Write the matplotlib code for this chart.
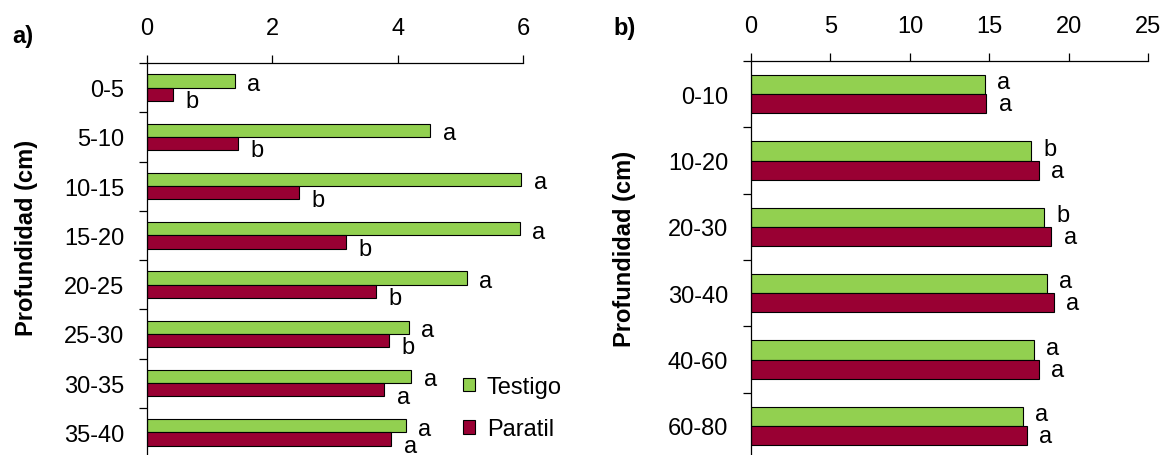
import numpy as np
import matplotlib
matplotlib.use("Agg")
import matplotlib.pyplot as plt
from matplotlib.patches import Patch

plt.rcParams['font.family'] = ['Liberation Sans', 'DejaVu Sans']

# panel a) data
depth_a = ['0-5', '5-10', '10-15', '15-20', '20-25', '25-30', '30-35', '35-40']
testigo_a = [1.40, 4.52, 5.97, 5.95, 5.10, 4.18, 4.22, 4.13]
paratil_a = [0.42, 1.45, 2.42, 3.18, 3.66, 3.86, 3.79, 3.90]
let_testigo_a = ['a', 'a', 'a', 'a', 'a', 'a', 'a', 'a']
let_paratil_a = ['b', 'b', 'b', 'b', 'b', 'b', 'a', 'a']

# panel b) data
depth_b = ['0-10', '10-20', '20-30', '30-40', '40-60', '60-80']
testigo_b = [14.70, 17.60, 18.40, 18.60, 17.80, 17.10]
paratil_b = [14.80, 18.10, 18.90, 19.05, 18.10, 17.35]
let_testigo_b = ['a', 'b', 'b', 'a', 'a', 'a']
let_paratil_b = ['a', 'a', 'a', 'a', 'a', 'a']

GREEN = '#92D050'
RED = '#990033'
FS = 17

fig = plt.figure(figsize=(11.65, 4.56), dpi=100)
ax_a = fig.add_axes([0.1262, -0.0044, 0.3227, 0.864])
ax_b = fig.add_axes([0.6446, -0.0088, 0.3412, 0.8728])


def draw_panel(ax, cats, v1, v2, l1, l2, h, xmax, step, dy1, dy2):
    y = np.arange(len(cats))
    ax.barh(y - h / 2, v1, height=h, color=GREEN, edgecolor='black', linewidth=0.8)
    ax.barh(y + h / 2, v2, height=h, color=RED, edgecolor='black', linewidth=0.8)
    # significance letters next to each bar
    for yi, v, t in zip(y, v1, l1):
        ax.annotate(t, (v, yi - h / 2), xytext=(9, dy1), textcoords='offset points',
                    ha='left', va='center', fontsize=FS)
    for yi, v, t in zip(y, v2, l2):
        ax.annotate(t, (v, yi + h / 2), xytext=(9, dy2), textcoords='offset points',
                    ha='left', va='center', fontsize=FS)
    ax.set_xlim(0, xmax)
    ax.set_ylim(len(cats) - 0.5, -0.5)
    ax.xaxis.tick_top()
    ax.set_xticks(np.arange(0, xmax + 0.01, step))
    ax.tick_params(axis='x', direction='out', length=5.5, width=0.9, pad=11.5, labelsize=FS)
    ax.set_yticks(y)
    ax.set_yticklabels(cats)
    ax.set_yticks(np.arange(len(cats) + 1) - 0.5, minor=True)
    ax.tick_params(axis='y', which='major', length=0, pad=16.5, labelsize=FS)
    ax.tick_params(axis='y', which='minor', direction='out', length=5.5, width=0.9)
    for s in ['right', 'bottom']:
        ax.spines[s].set_visible(False)
    for s in ['left', 'top']:
        ax.spines[s].set_linewidth(0.9)


draw_panel(ax_a, depth_a, testigo_a, paratil_a, let_testigo_a, let_paratil_a,
           0.27, 6, 2, -2, -5)
draw_panel(ax_b, depth_b, testigo_b, paratil_b, let_testigo_b, let_paratil_b,
           0.29, 25, 5, 1.5, -0.5)

ax_a.set_ylabel('Profundidad (cm)', fontsize=FS, fontweight='bold')
ax_a.yaxis.set_label_coords(-0.29, 0.558)
ax_b.set_ylabel('Profundidad (cm)', fontsize=FS, fontweight='bold')
ax_b.yaxis.set_label_coords(-0.2895, 0.53)

fig.text(0.0105, 0.92, 'a)', fontsize=FS, fontweight='bold', va='center')
fig.text(0.527, 0.937, 'b)', fontsize=FS, fontweight='bold', va='center')

handles = [Patch(facecolor=GREEN, edgecolor='black', linewidth=0.8, label='Testigo'),
           Patch(facecolor=RED, edgecolor='black', linewidth=0.8, label='Paratil')]
fig.legend(handles=handles, loc='center left', bbox_to_anchor=(0.3974, 0.103),
           frameon=False, fontsize=FS, handlelength=0.51, handleheight=0.51,
           handletextpad=0.5, labelspacing=0.87, borderpad=0, borderaxespad=0)

fig.savefig('out.png', dpi=100)
